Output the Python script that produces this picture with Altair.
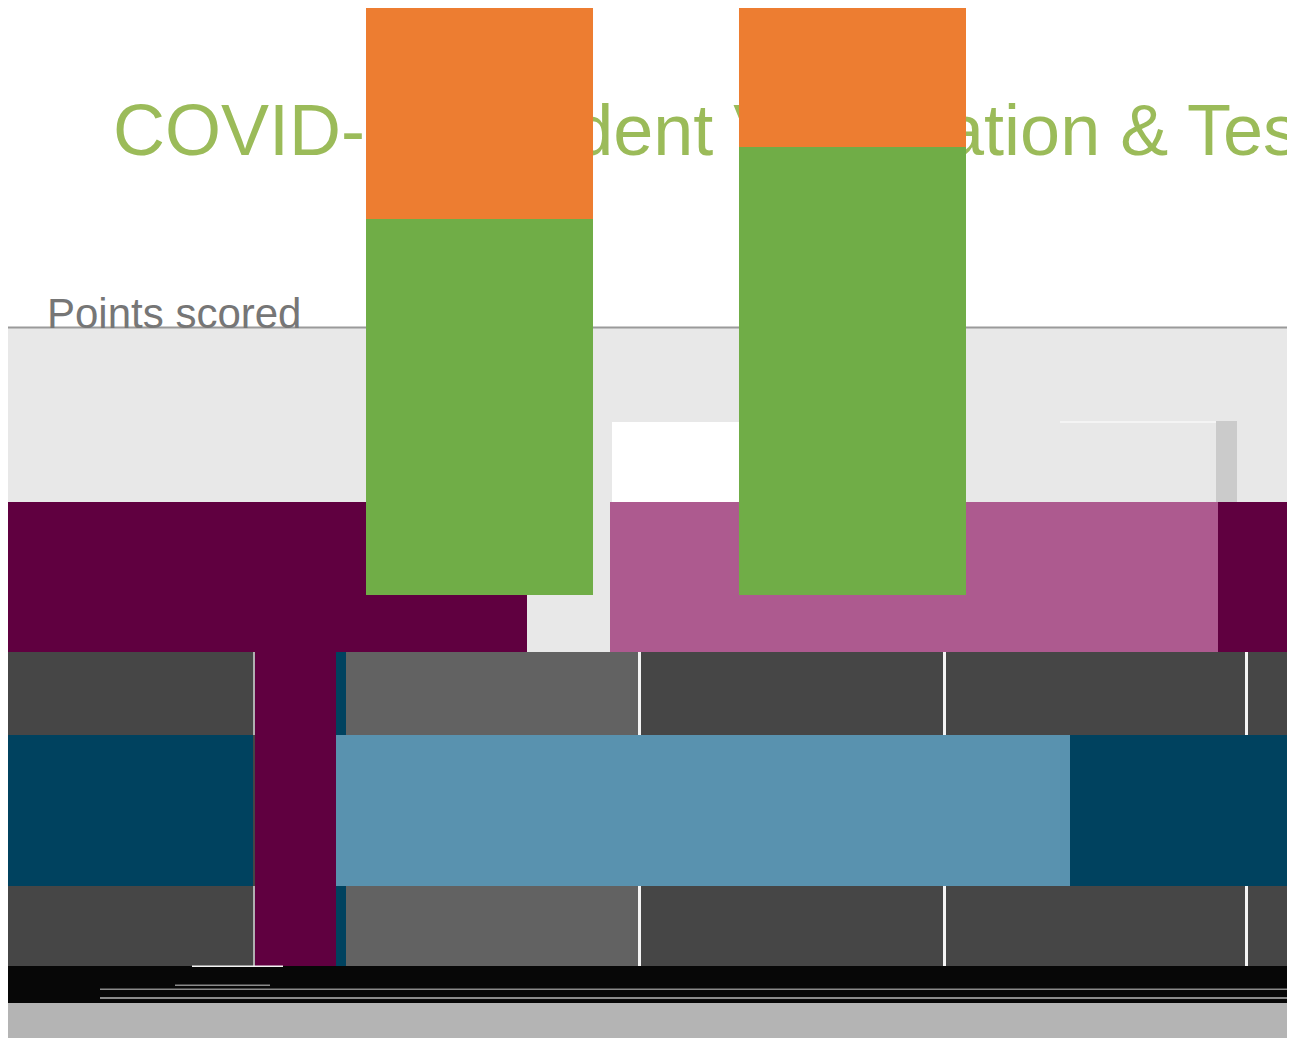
import altair as alt
import pandas as pd

# ---- chart text ----
title_text = "COVID-19 Student Vaccination & Testing"
axis_title = "Points scored"

# ---- stacked bar data ----
categories = ["Group 1", "Group 2"]
series_names = ["Series 1", "Series 2"]
series_1 = [47, 56]   # green, bottom
series_2 = [30, 30]   # orange, top (runs past the top of the frame)

# ---- background tiles (page coordinates of the reference picture) ----
tile_kind = ["lightgray", "rule", "white", "whiteline", "midgray",
             "purple", "pink", "purple",
             "darkgray", "lightdark", "lightdark",
             "whiteline", "whiteline", "whiteline", "whiteline", "whiteline", "whiteline",
             "edge", "edge",
             "purple", "teal", "teal",
             "teal", "lightblue", "teal",
             "black", "bottomgray", "glitch", "glitch", "glitch", "whiteline"]
tile_x0 = [8, 8, 612, 1060, 1216,
           8, 610, 1218,
           8, 346, 346,
           638, 638, 943, 943, 1245, 1245,
           253, 253,
           255, 336, 336,
           8, 336, 1070,
           8, 8, 100, 100, 175, 192]
tile_x1 = [1295, 1295, 966, 1216, 1237,
           527, 1218, 1295,
           1295, 638, 638,
           641, 641, 946, 946, 1248, 1248,
           255, 255,
           336, 346, 346,
           253, 1070, 1295,
           1295, 1295, 1295, 1295, 270, 283]
tile_y0 = [328, 326.5, 422, 421, 421,
           502, 502, 502,
           652, 652, 886,
           652, 886, 652, 886, 652, 886,
           652, 886,
           652, 652, 886,
           735, 735, 735,
           966, 1003, 988.5, 997, 984.5, 965.5]
tile_y1 = [652, 328.5, 502, 423, 502,
           652, 652, 652,
           966, 735, 966,
           735, 966, 735, 966, 735, 966,
           735, 966,
           966, 735, 966,
           886, 886, 886,
           1003, 1046, 990, 999, 986, 967]

kind_domain = ["lightgray", "rule", "white", "whiteline", "midgray", "purple", "pink",
               "darkgray", "lightdark", "edge", "teal", "lightblue", "black",
               "bottomgray", "glitch"]
kind_range = ["#e8e8e8", "#9a9a9a", "#ffffff", "#f4f4f4", "#cbcbcb", "#600040", "#ad5a8f",
              "#464646", "#626262", "#b0b0b0", "#00425f", "#5992af", "#070707",
              "#b4b4b4", "#8a8a8a"]

W, H = 1279, 1030  # plot frame; page origin of the frame is (8, 8)

tiles = pd.DataFrame({"kind": tile_kind, "x0": tile_x0, "x1": tile_x1,
                      "y0": tile_y0, "y1": tile_y1, "order": list(range(len(tile_kind)))})

bars = pd.DataFrame({
    "category": categories * 2,
    "series": [series_names[0]] * 2 + [series_names[1]] * 2,
    "value": series_1 + series_2,
    "ord": [0, 0, 1, 1],
})

background = alt.Chart(tiles).mark_rect(clip=True).encode(
    x=alt.X("x0:Q", scale=alt.Scale(domain=[8, 8 + W], nice=False, zero=False), axis=None),
    x2="x1:Q",
    y=alt.Y("y0:Q", scale=alt.Scale(domain=[8, 8 + H], reverse=True, nice=False, zero=False), axis=None),
    y2="y1:Q",
    color=alt.Color("kind:N", scale=alt.Scale(domain=kind_domain, range=kind_range), legend=None),
    order=alt.Order("order:Q"),
)

title_layer = alt.Chart(pd.DataFrame({"t": [title_text]})).mark_text(
    align="left", baseline="alphabetic", font="Liberation Sans", fontSize=72,
    color="#9bbb59", clip=True
).encode(text="t:N", x=alt.value(105), y=alt.value(147))

axis_title_layer = alt.Chart(pd.DataFrame({"t": [axis_title]})).mark_text(
    align="left", baseline="alphabetic", font="Liberation Sans", fontSize=42,
    color="#767676"
).encode(text="t:N", x=alt.value(39), y=alt.value(320))

bar_layer = alt.Chart(bars).mark_bar(clip=True).encode(
    x=alt.X("category:N", sort=categories,
            scale=alt.Scale(range=[358, 958], paddingInner=0.3914, paddingOuter=0), axis=None),
    y=alt.Y("value:Q", stack="zero",
            scale=alt.Scale(domain=[0, 73.375], range=[587, 0], nice=False, zero=True), axis=None),
    color=alt.Color("series:N", scale=alt.Scale(domain=series_names, range=["#70ad47", "#ed7d31"]),
                    legend=None),
    order=alt.Order("ord:Q"),
)

chart = alt.layer(background, title_layer, axis_title_layer, bar_layer).resolve_scale(
    x="independent", y="independent", color="independent"
).properties(
    width=W, height=H, padding=0, autosize=alt.AutoSizeParams(type="none"),
    background="#ffffff"
).configure_view(stroke=None)

chart.save("out.html", embed_options={"renderer": "svg", "actions": False})
